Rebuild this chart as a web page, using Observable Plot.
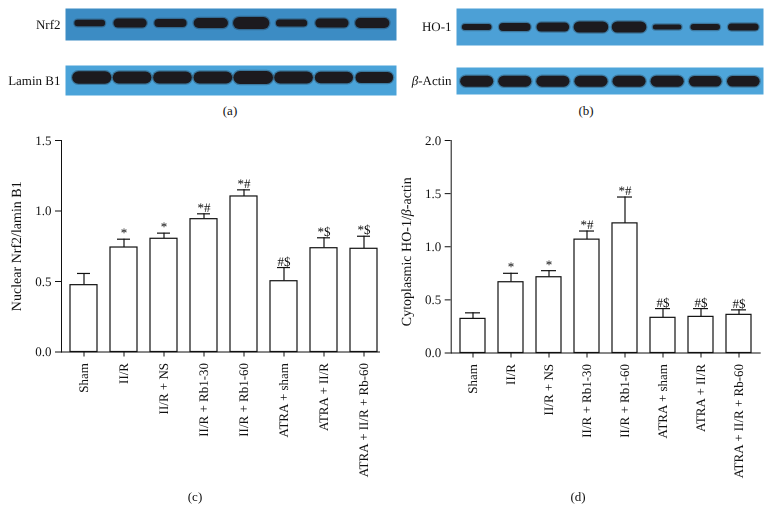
<!DOCTYPE html>
<html><head><meta charset="utf-8">
<script src="https://cdn.jsdelivr.net/npm/d3@7"></script>
<script src="https://cdn.jsdelivr.net/npm/@observablehq/plot@0.6"></script>
<style>
body{margin:0;background:#fff;}
#fig{position:relative;width:772px;height:512px;overflow:hidden;font-family:"Liberation Serif","Times New Roman",serif;color:#111;}
#fig svg{position:absolute;background:transparent;overflow:visible;max-width:none;will-change:transform;}
#fig svg text{text-rendering:geometricPrecision;}
.cap{position:absolute;font-size:13px;transform:translate(-50%,-50%);white-space:nowrap;}
</style></head><body><div id="fig"></div>
<script>
// ---------- data ----------
const groups = ["Sham","II/R","II/R + NS","II/R + Rb1-30","II/R + Rb1-60","ATRA + sham","ATRA + II/R","ATRA + II/R + Rb-60"];
const nrf2Mean = [0.474,0.741,0.803,0.942,1.103,0.502,0.736,0.732];
const nrf2Err  = [0.083,0.059,0.040,0.038,0.047,0.097,0.074,0.089];
const nrf2Sig  = ["","*","*","*#","*#","#$","*$","*$"];
const ho1Mean  = [0.321,0.666,0.713,1.067,1.220,0.331,0.340,0.359];
const ho1Err   = [0.057,0.084,0.062,0.081,0.248,0.087,0.078,0.047];
const ho1Sig   = ["","*","*","*#","*#","#$","#$","#$"];
const nrf2Ticks = [0,0.5,1.0,1.5];
const ho1Ticks  = [0,0.5,1.0,1.5,2.0];
// western blot lanes and band strengths (band thickness)
const lanes = [1,2,3,4,5,6,7,8];
const nrf2Band  = [6.5,9,8,10,12,7,9,10];
const laminBand = [12.5,12,12,12,13,12,11.5,11];
const ho1Band   = [6,8,9,11,11,5,6,7];
const actinBand = [11,11,11,11,11,11,10.5,10.5];

const fig = document.getElementById("fig");
const FONT = '"Liberation Serif","Times New Roman",serif';
const AXIS_LABELS = ["Nuclear Nrf2/lamin B1","Cytoplasmic HO-1/β-actin"];

function fixText(svg){
  svg.querySelectorAll("text").forEach(t=>{
    const s = t.textContent;
    t.style.fontFamily = FONT;
    t.style.fontSize = AXIS_LABELS.includes(s) ? "14px" : "13px";
    t.style.fill = "#111";
    if (t.childElementCount===0 && s.includes("β")) {
      const parts = s.split("β");
      t.textContent = "";
      parts.forEach((p,i)=>{
        if (i>0){
          const ts=document.createElementNS("http://www.w3.org/2000/svg","tspan");
          ts.setAttribute("font-style","italic"); ts.textContent="β"; t.appendChild(ts);
        }
        t.appendChild(document.createTextNode(p));
      });
    }
  });
}

function place(svg, left, top){
  svg.style.left = left+"px"; svg.style.top = top+"px";
  fixText(svg);
  fig.appendChild(svg);
}

function blot({label, thick, left, top, width, height, mL, mR, xDomain, yDomain, fill, hl}){
  const data = lanes.map((l,i)=>({lane:l, t:thick[i]}));
  const svg = Plot.plot({
    width, height, marginLeft:mL, marginRight:mR, marginTop:0, marginBottom:0,
    style:{background:"transparent", color:"#111"},
    x:{domain:xDomain, axis:null},
    y:{domain:yDomain, axis:null},
    marks:[
      Plot.frame({fill, stroke:"none"}),
      Plot.link(data, {x1:d=>d.lane-hl, x2:d=>d.lane+hl, y1:0, y2:0, strokeWidth:d=>d.t+2.5, stroke:"#1c1a1e", strokeOpacity:0.3, strokeLinecap:"round"}),
      Plot.link(data, {x1:d=>d.lane-hl, x2:d=>d.lane+hl, y1:0, y2:0, strokeWidth:"t", stroke:"#1c1a1e", strokeLinecap:"round"}),
      Plot.text([label], {frameAnchor:"left", textAnchor:"end", dx:-5, text:d=>d})
    ]
  });
  place(svg, left, top);
}

blot({label:"Nrf2", thick:nrf2Band, left:0, top:8, width:400, height:32, mL:65, mR:4, xDomain:[0.4,8.6], yDomain:[-17.5,14.5], fill:"rgb(60,140,196)", hl:0.3});
blot({label:"Lamin B1", thick:laminBand, left:0, top:65, width:400, height:30, mL:65, mR:4, xDomain:[0.35,8.55], yDomain:[-18,12], fill:"rgb(74,163,217)", hl:0.33});
blot({label:"HO-1", thick:ho1Band, left:386, top:8, width:386, height:37, mL:70, mR:9, xDomain:[0.47,8.53], yDomain:[-18.5,18.5], fill:"rgb(76,160,214)", hl:0.31});
blot({label:"β-Actin", thick:actinBand, left:386, top:67, width:386, height:27, mL:70, mR:9, xDomain:[0.47,8.53], yDomain:[-13.3,13.7], fill:"rgb(78,165,218)", hl:0.29});

function barChart({means, errs, sigs, ticks, yMax, label, labelDy, left, mL, mR, mB, xRange, capInset}){
  const data = groups.map((g,i)=>({g, m:means[i], top:means[i]+errs[i], s:sigs[i]}));
  const svg = Plot.plot({
    width:386, height:387, marginTop:15, marginBottom:mB, marginLeft:mL, marginRight:mR,
    style:{background:"transparent", color:"#111"},
    x:{domain:groups, range:xRange, paddingInner:0.333, paddingOuter:0, tickRotate:-90, tickSize:5, tickPadding:6, label:null},
    y:{domain:[0,yMax], ticks, tickFormat:d3.format(".1f"), tickSize:6, tickPadding:4, line:true, label:null},
    marks:[
      Plot.ruleX(data, {x:"g", y1:"m", y2:"top", stroke:"#111", strokeWidth:1.2}),
      Plot.tickY(data, {x:"g", y:"top", insetLeft:capInset, insetRight:capInset, stroke:"#111", strokeWidth:1.2}),
      Plot.barY(data, {x:"g", y:"m", fill:"white", stroke:"#111", strokeWidth:1.2}),
      Plot.text(data, {x:"g", y:"top", text:"s", lineAnchor:"bottom", dy:-2}),
      Plot.text([label], {frameAnchor:"left", rotate:-90, dx:-50, dy:labelDy, lineAnchor:"top", textAnchor:"middle", text:d=>d}),
      Plot.ruleY([0], {stroke:"#111", strokeWidth:1.2})
    ]
  });
  place(svg, left, 125);
}

barChart({means:nrf2Mean, errs:nrf2Err, sigs:nrf2Sig, ticks:nrf2Ticks, yMax:1.5, label:AXIS_LABELS[0], labelDy:0,
  left:0, mL:61, mR:6, mB:160.5, xRange:[68.3,379], capInset:7});
barChart({means:ho1Mean, errs:ho1Err, sigs:ho1Sig, ticks:ho1Ticks, yMax:2.0, label:AXIS_LABELS[1], labelDy:5,
  left:386, mL:64.7, mR:11.3, mB:159.5, xRange:[71,368.3], capInset:5});

[["(a)",230,111],["(b)",586,111],["(c)",195,497],["(d)",578,497]].forEach(([t,x,y])=>{
  const d=document.createElement("div"); d.className="cap"; d.textContent=t;
  d.style.left=x+"px"; d.style.top=y+"px"; fig.appendChild(d);
});
</script></body></html>
